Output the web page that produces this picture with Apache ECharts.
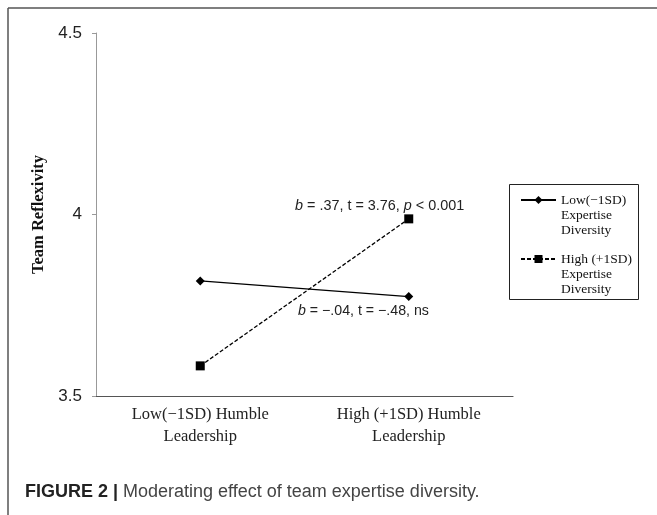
<!DOCTYPE html>
<html><head><meta charset="utf-8">
<script src="https://cdn.jsdelivr.net/npm/echarts@6/dist/echarts.min.js"></script>
<style>html,body{margin:0;padding:0;background:#fff}#c{width:657px;height:515px}</style>
</head><body><div id="c"></div>
<script>
var categories = ['Low(\u22121SD) Humble\nLeadership', 'High (+1SD) Humble\nLeadership'];
var lowDiversity = [3.817, 3.774];
var highDiversity = [3.583, 3.988];
var seriesNames = ['Low(\u22121SD)\nExpertise\nDiversity', 'High (+1SD)\nExpertise\nDiversity'];
var yTicks = {min: 3.5, max: 4.5, interval: 0.5};

var chart = echarts.init(document.getElementById('c'));
var serif = '"Liberation Serif", "Times New Roman", serif';
var sans = '"Liberation Sans", Arial, sans-serif';
chart.setOption({
  animation: false,
  grid: {left: 96, right: 144, top: 33, bottom: 119},
  xAxis: {
    type: 'category', data: categories, boundaryGap: true,
    axisLine: {lineStyle: {color: '#555', width: 1.2}},
    axisTick: {length: 4, lineStyle: {color: '#555'}},
    axisLabel: {fontFamily: serif, fontSize: 16.5, color: '#222', lineHeight: 22, margin: 8}
  },
  yAxis: {
    type: 'value', min: yTicks.min, max: yTicks.max, interval: yTicks.interval,
    name: 'Team Reflexivity', nameLocation: 'middle', nameGap: 49,
    nameTextStyle: {fontFamily: serif, fontWeight: 'bold', fontSize: 16.5, color: '#111'},
    splitLine: {show: false},
    axisLine: {show: true, lineStyle: {color: '#999', width: 1}},
    axisTick: {show: true, length: 4, lineStyle: {color: '#999'}},
    axisLabel: {fontFamily: sans, fontSize: 17, color: '#222', margin: 14,
      formatter: function (v) { return String(v); }}
  },
  legend: {
    orient: 'vertical', left: 520, top: 162.5,
    padding: 0, itemWidth: 35, itemHeight: 10, itemGap: -16,
    data: seriesNames,
    formatter: function (name) { return '\n\n' + name; },
    textStyle: {fontFamily: serif, fontSize: 13.5, color: '#111', lineHeight: 15}
  },
  series: [
    {name: seriesNames[0], type: 'line', data: lowDiversity,
      symbol: 'diamond', symbolSize: 9,
      lineStyle: {color: '#000', width: 1.3}, itemStyle: {color: '#000'}},
    {name: seriesNames[1], type: 'line', data: highDiversity,
      symbol: 'rect', symbolSize: 9,
      lineStyle: {color: '#000', width: 1.3, type: [4, 2]}, itemStyle: {color: '#000'}}
  ],
  graphic: [
    {type: 'line', shape: {x1: 8, y1: 8, x2: 657, y2: 8}, style: {stroke: '#555', lineWidth: 1.5}},
    {type: 'line', shape: {x1: 8, y1: 8, x2: 8, y2: 515}, style: {stroke: '#555', lineWidth: 1.5}},
    {type: 'rect', shape: {x: 509.5, y: 184.5, width: 129, height: 115}, style: {fill: 'none', stroke: '#222', lineWidth: 1}},
    {type: 'text', left: 295, top: 199, style: {
      text: '{i|b} = .37, t = 3.76, {i|p} < 0.001',
      font: '14.4px ' + sans, fill: '#222',
      rich: {i: {fontStyle: 'italic', fontFamily: sans, fontSize: 14.4, fill: '#222'}}}},
    {type: 'text', left: 298, top: 304, style: {
      text: '{i|b} = \u2212.04, t = \u2212.48, ns',
      font: '14.2px ' + sans, fill: '#222',
      rich: {i: {fontStyle: 'italic', fontFamily: sans, fontSize: 14.2, fill: '#222'}}}},
    {type: 'text', left: 25, top: 483, style: {
      text: '{b|FIGURE 2 |} Moderating effect of team expertise diversity.',
      font: '18px ' + sans, fill: '#444',
      rich: {b: {fontWeight: 'bold', fontFamily: sans, fontSize: 18, fill: '#222'}}}}
  ]
});
</script></body></html>
